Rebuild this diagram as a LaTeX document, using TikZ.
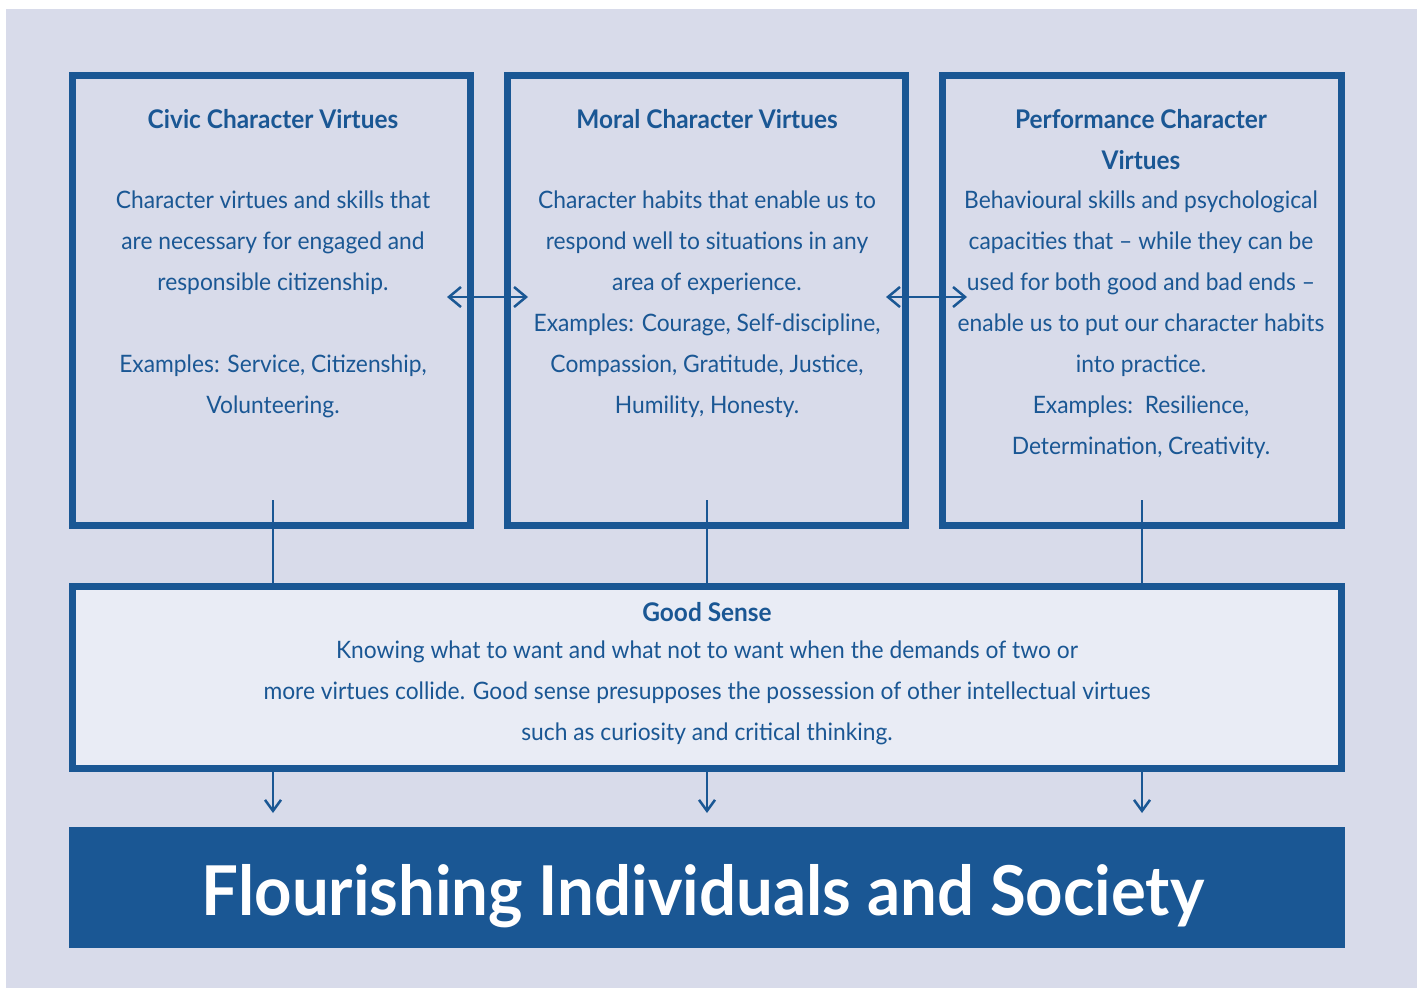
\documentclass[tikz,border=0pt]{standalone}
\usepackage{fontspec}
\setmainfont{Lato}[FakeStretch=0.95]
\usetikzlibrary{arrows.meta}
\definecolor{blu}{HTML}{1A5794}
\definecolor{lav}{HTML}{D8DBEA}
\definecolor{pale}{HTML}{E9ECF5}
\tikzset{
  vbox/.style={draw=blu, line width=7pt, minimum width=398pt, minimum height=450pt, inner sep=0pt},
  conn/.style={draw=blu, line width=2.5pt},
  darr/.style={draw=blu, line width=2.5pt, {Straight Barb[length=12pt,width=20pt]}-{Straight Barb[length=12pt,width=20pt]}},
  darrow/.style={draw=blu, line width=2.5pt, -{Straight Barb[length=11pt,width=16pt]}},
  ttl/.style={text=blu, font=\bfseries\fontsize{25.7}{41}\selectfont, align=center, inner sep=0pt},
  body/.style={text=blu, font=\fontsize{24}{41}\selectfont, align=center, inner sep=0pt, anchor=north},
}
\begin{document}
\begin{tikzpicture}[x=1pt,y=-1pt]
\useasboundingbox (0,0) rectangle (1424,988);
\fill[white] (0,0) rectangle (1424,988);
\fill[lav] (6,9) rectangle (1417,988);

% boxes
\node[vbox] (civic) at (271.5,300.5) {};
\node[vbox] (moral) at (706.5,300.5) {};
\node[vbox, minimum width=399pt] (perf) at (1142,300.5) {};
\node[draw=blu, fill=pale, line width=7pt, minimum width=1269pt, minimum height=182pt, inner sep=0pt] (good) at (707,677.5) {};
\node[fill=blu, minimum width=1276pt, minimum height=121pt, inner sep=0pt] (flour) at (707,887.5) {};

% texts
\node[ttl, anchor=base] (civicT) at (273,128) {Civic Character Virtues};
\node[body] (civicB) at (273,191) {Character virtues and skills that\\are necessary for engaged and\\responsible citizenship.\\[41pt]Examples: Service, Citizenship,\\Volunteering.};

\node[ttl, anchor=base] (moralT) at (707,128) {Moral Character Virtues};
\node[body] (moralB) at (707,191) {Character habits that enable us to\\respond well to situations in any\\area of experience.\\Examples: Courage, Self-discipline,\\Compassion, Gratitude, Justice,\\Humility, Honesty.};

\node[ttl, anchor=north] (perfT) at (1141,109) {Performance Character\\Virtues};
\node[body] (perfB) at (1141,191) {Behavioural skills and psychological\\capacities that – while they can be\\used for both good and bad ends –\\enable us to put our character habits\\into practice.\\Examples:\ \ Resilience,\\Determination, Creativity.};

\node[ttl, anchor=base] (goodT) at (707,621) {Good Sense};
\node[body] (goodB) at (707,640.5) {Knowing what to want and what not to want when the demands of two or\\more virtues collide. Good sense presupposes the possession of other intellectual virtues\\such as curiosity and critical thinking.};

\node[text=white, font=\bfseries\fontsize{68.7}{72}\selectfont, inner sep=0pt, anchor=base] (flourT) at (703,915) {Flourishing Individuals and Society};

% connectors
\coordinate (v1) at (273,500);
\coordinate (v2) at (707,500);
\coordinate (v3) at (1142,500);
\draw[conn] (v1) -- (v1 |- good.north);
\draw[conn] (v2) -- (v2 |- good.north);
\draw[conn] (v3) -- (v3 |- good.north);

\coordinate (d1) at (273,813);
\coordinate (d2) at (707,813);
\coordinate (d3) at (1142,813);
\draw[darrow] (d1 |- good.south) -- (d1);
\draw[darrow] (d2 |- good.south) -- (d2);
\draw[darrow] (d3 |- good.south) -- (d3);

\coordinate (h1a) at (447,297);
\coordinate (h1b) at (528,297);
\coordinate (h2a) at (886,297);
\coordinate (h2b) at (967,297);
\draw[darr] (h1a) -- (h1b);
\draw[darr] (h2a) -- (h2b);
\end{tikzpicture}
\end{document}
